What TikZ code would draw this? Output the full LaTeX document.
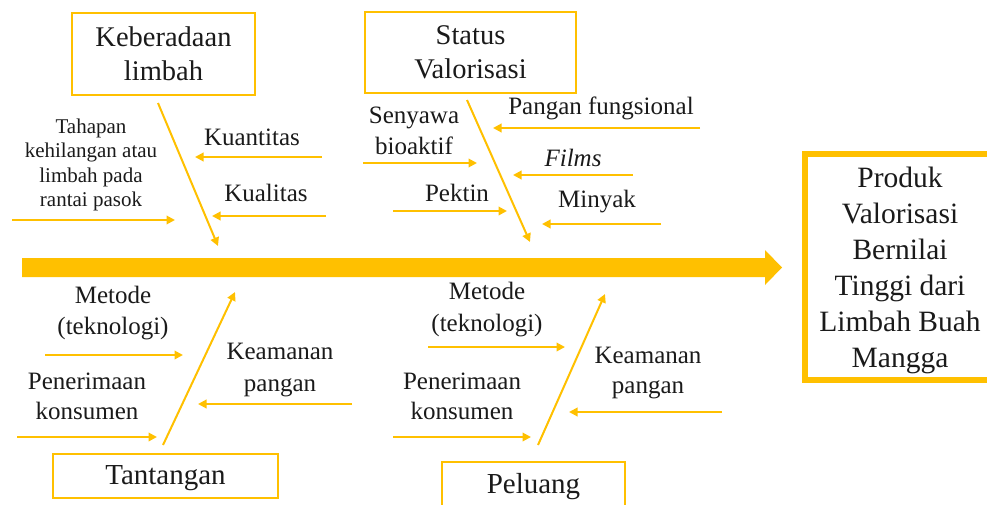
\documentclass[tikz,border=0pt]{standalone}
\usepackage{fontspec}
\setmainfont{Liberation Serif}
\usetikzlibrary{arrows.meta}
\definecolor{gold}{HTML}{FFC000}
\definecolor{ink}{HTML}{1A1A1A}
\tikzset{
  hbox/.style={draw=gold, line width=2.5pt, inner sep=0pt, text=ink, align=center, font=\fontsize{28.5}{34}\selectfont},
  lbl/.style={text=ink, align=center, inner sep=0pt, font=\fontsize{25}{31}\selectfont},
  arr/.style={draw=gold, line width=2pt, -{Triangle[length=8.5pt,width=8.5pt]}},
}
\begin{document}
\begin{tikzpicture}[x=1pt,y=-1pt]
\useasboundingbox (0,0) rectangle (987,504);
% category boxes
\node[hbox, minimum width=183pt, minimum height=82pt] (kb) at (163.5,54) {Keberadaan\\limbah};
\node[hbox, minimum width=211pt, minimum height=81pt] (sv) at (470.5,52.5) {\fontsize{28.5}{33}\selectfont Status\\Valorisasi};
\node[hbox, minimum width=225pt, minimum height=44pt] (tt) at (165.5,476) {};
\node[text=ink, inner sep=0pt, font=\fontsize{29}{34}\selectfont] (ttt) at (165.5,478) {Tantangan};
\node[hbox, minimum width=183pt, minimum height=56pt] (pl) at (533.5,490) {};
\node[text=ink, inner sep=0pt, font=\fontsize{29}{34}\selectfont] (plt) at (533.5,487) {Peluang};
% product box
\node[draw=gold, line width=6pt, minimum width=190pt, minimum height=226.5pt, inner sep=0pt] (prod) at (900,266.75) {};
\node[text=ink, align=center, inner sep=0pt, font=\fontsize{29.5}{36}\selectfont] (prodt) at (900,270) {Produk\\Valorisasi\\Bernilai\\Tinggi dari\\Limbah Buah\\Mangga};
% spine
\coordinate (s1) at (22,258);
\coordinate (s2) at (765,258);
\coordinate (s3) at (765,250);
\coordinate (s4) at (782,267.5);
\coordinate (s5) at (765,285);
\coordinate (s6) at (765,277);
\coordinate (s7) at (22,277);
\fill[gold] (s1) -- (s2) -- (s3) -- (s4) -- (s5) -- (s6) -- (s7) -- cycle;
% labels
\node[lbl, font=\fontsize{21}{24.5}\selectfont] (tah) at (91,165) {Tahapan\\kehilangan atau\\limbah pada\\rantai pasok};
\node[lbl] (kuan) at (252,137) {Kuantitas};
\node[lbl] (kual) at (266,193) {Kualitas};
\node[lbl] (seny) at (414,131) {Senyawa\\bioaktif};
\node[lbl] (pang) at (601,108) {Pangan fungsional};
\node[lbl] (film) at (573,158) {\itshape Films};
\node[lbl] (pekt) at (457,193) {Pektin};
\node[lbl] (miny) at (597,202) {Minyak};
\node[lbl] (met1) at (113,313) {Metode\\(teknologi)};
\node[lbl, font=\fontsize{25}{30}\selectfont] (pen1) at (87,396) {Penerimaan\\konsumen};
\node[lbl, font=\fontsize{25}{32}\selectfont] (kea1) at (280,370) {Keamanan\\pangan};
\node[lbl, font=\fontsize{25}{32}\selectfont] (met2) at (487,310) {Metode\\(teknologi)};
\node[lbl, font=\fontsize{25}{30}\selectfont] (pen2) at (462,396) {Penerimaan\\konsumen};
\node[lbl, font=\fontsize{25}{30}\selectfont] (kea2) at (648,373) {Keamanan\\pangan};
% diagonals
\coordinate (d1a) at (158,103); \coordinate (d1b) at (218,246);
\coordinate (d2a) at (467,100); \coordinate (d2b) at (530,242);
\coordinate (d3a) at (163,445); \coordinate (d3b) at (235,292);
\coordinate (d4a) at (538,445); \coordinate (d4b) at (605,294);
\draw[arr] (d1a) -- (d1b);
\draw[arr] (d2a) -- (d2b);
\draw[arr] (d3a) -- (d3b);
\draw[arr] (d4a) -- (d4b);
% horizontal arrows
\coordinate (a1a) at (12,220);  \coordinate (a1b) at (175,220);
\coordinate (a2a) at (322,157); \coordinate (a2b) at (195,157);
\coordinate (a3a) at (326,216); \coordinate (a3b) at (212,216);
\coordinate (a4a) at (363,163); \coordinate (a4b) at (477,163);
\coordinate (a5a) at (700,128); \coordinate (a5b) at (493,128);
\coordinate (a6a) at (633,175); \coordinate (a6b) at (513,175);
\coordinate (a7a) at (393,211); \coordinate (a7b) at (507,211);
\coordinate (a8a) at (661,224); \coordinate (a8b) at (542,224);
\coordinate (b1a) at (45,355);  \coordinate (b1b) at (183,355);
\coordinate (b2a) at (17,437);  \coordinate (b2b) at (157,437);
\coordinate (b3a) at (352,404); \coordinate (b3b) at (198,404);
\coordinate (b4a) at (428,347); \coordinate (b4b) at (565,347);
\coordinate (b5a) at (393,437); \coordinate (b5b) at (531,437);
\coordinate (b6a) at (722,412); \coordinate (b6b) at (569,412);
\foreach \p in {a1,a2,a3,a4,a5,a6,a7,a8,b1,b2,b3,b4,b5,b6}
  \draw[arr] (\p a) -- (\p b);
\end{tikzpicture}
\end{document}
